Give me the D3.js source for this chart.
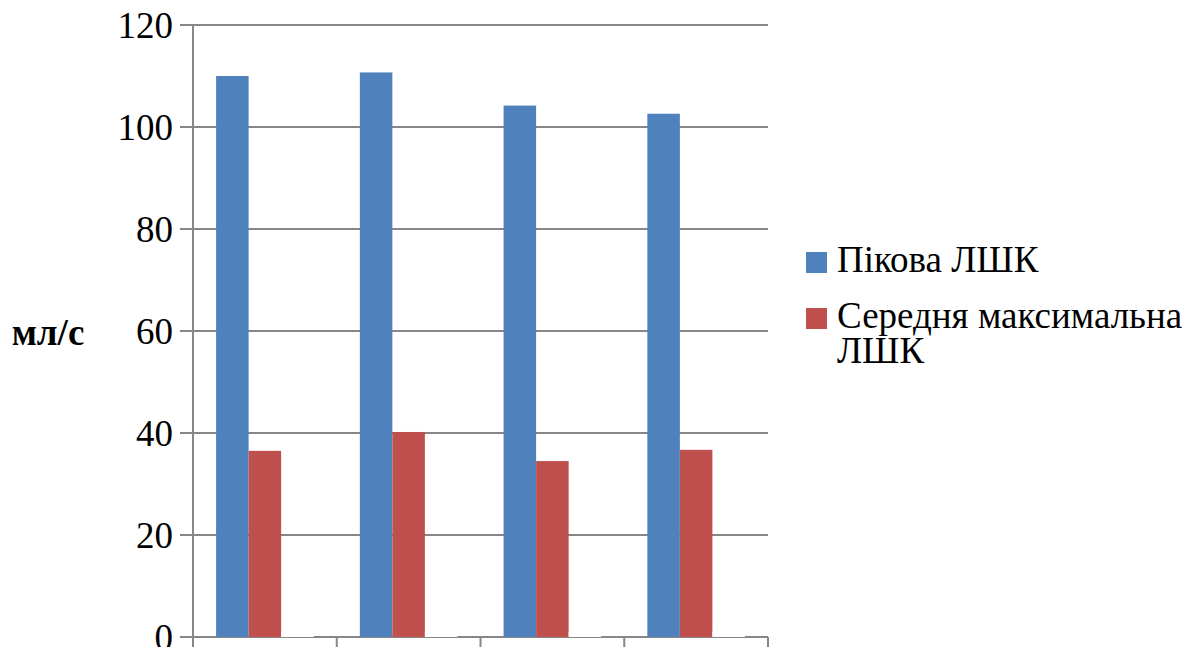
<!DOCTYPE html>
<html>
<head>
<meta charset="utf-8">
<script src="https://cdn.jsdelivr.net/npm/d3@7"></script>
<style>
  html, body { margin: 0; padding: 0; background: #fff; }
  svg { display: block; }
  svg text { font-family: "Liberation Serif", "DejaVu Serif", "Times New Roman", Times, serif; }
</style>
</head>
<body>
<svg id="chart" width="1194" height="647"></svg>
<script>
// Groups along the x axis (unlabelled)
const categories = ["1", "2", "3", "4"];
// Series names
const seriesNames = ["Пікова ЛШК", "Середня максимальна ЛШК", "—"];
// Values, ml/s
const peakValues = [110, 110.7, 104.2, 102.6];
const meanMaxValues = [36.5, 40.2, 34.5, 36.7];
const thirdValues = [1, 1, 1, 1];
// Y axis ticks
const yTicks = [0, 20, 40, 60, 80, 100, 120];
const seriesColors = ["#4F81BD", "#C0504D", "#FFFFFF"];
const legendLines = [["Пікова ЛШК"], ["Середня максимальна", "ЛШК"]];

const serif = "'Liberation Serif', 'DejaVu Serif', 'Times New Roman', Times, serif";
const seriesValues = [peakValues, meanMaxValues, thirdValues];
const rows = categories.map((c, i) => ({
  cat: c,
  vals: seriesValues.map((vals, s) => ({ s, v: vals[i] }))
}));

const svg = d3.select("#chart");
const plotLeft = 193, plotRight = 768, plotTop = 25, plotBottom = 637;
const gridColor = "#878787";

const x0 = d3.scaleBand().domain(categories).range([plotLeft, plotRight]).padding(0);
const x1 = d3.scaleBand().domain(d3.range(seriesValues.length))
  .range([0, x0.bandwidth()]).paddingInner(0).paddingOuter(0.71);
const y = d3.scaleLinear().domain([0, 120]).range([plotBottom, plotTop]);

// Horizontal gridlines with short ticks on the left
svg.append("g").selectAll("line").data(yTicks.filter(t => t > 0)).join("line")
  .attr("x1", plotLeft - 13).attr("x2", plotRight)
  .attr("y1", d => y(d)).attr("y2", d => y(d))
  .attr("stroke", gridColor).attr("stroke-width", 2);

// Vertical axis
svg.append("line")
  .attr("x1", plotLeft).attr("x2", plotLeft).attr("y1", plotTop).attr("y2", 647)
  .attr("stroke", gridColor).attr("stroke-width", 2);

// Horizontal axis line with tick marks at group boundaries
svg.append("line")
  .attr("x1", plotLeft - 13).attr("x2", plotRight).attr("y1", y(0)).attr("y2", y(0))
  .attr("stroke", gridColor).attr("stroke-width", 2);
const boundaries = categories.map(c => x0(c)).concat([x0(categories[categories.length - 1]) + x0.bandwidth()]);
svg.append("g").selectAll("line").data(boundaries).join("line")
  .attr("x1", d => d).attr("x2", d => d)
  .attr("y1", y(0)).attr("y2", 647)
  .attr("stroke", gridColor).attr("stroke-width", 2);

// Bars
const groups = svg.append("g").selectAll("g").data(rows).join("g")
  .attr("transform", d => `translate(${x0(d.cat)},0)`);
groups.selectAll("rect").data(d => d.vals).join("rect")
  .attr("x", d => x1(d.s))
  .attr("width", x1.bandwidth())
  .attr("y", d => y(d.v))
  .attr("height", d => y(0) - y(d.v))
  .attr("fill", d => seriesColors[d.s]);

// Y tick labels
svg.append("g").selectAll("text").data(yTicks).join("text")
  .attr("x", 173).attr("y", d => y(d) + 13)
  .attr("text-anchor", "end")
  .attr("font-family", serif)
  .attr("font-size", 37)
  .attr("fill", "#000")
  .text(d => d);

// Y axis title
svg.append("text")
  .attr("x", 48).attr("y", 345)
  .attr("text-anchor", "middle")
  .attr("font-family", serif)
  .attr("font-size", 37).attr("font-weight", "bold")
  .text("мл/с");

// Legend
const legendTops = [252, 308];
legendLines.forEach((lines, i) => {
  svg.append("rect")
    .attr("x", 806).attr("y", legendTops[i])
    .attr("width", 21).attr("height", 21)
    .attr("fill", seriesColors[i]);
  const t = svg.append("text")
    .attr("x", 837).attr("y", legendTops[i] + 20)
    .attr("font-family", serif)
    .attr("font-size", 37).attr("fill", "#000");
  lines.forEach((ln, k) => {
    t.append("tspan").attr("x", 837).attr("dy", k === 0 ? 0 : 35).text(ln);
  });
});
</script>
</body>
</html>
